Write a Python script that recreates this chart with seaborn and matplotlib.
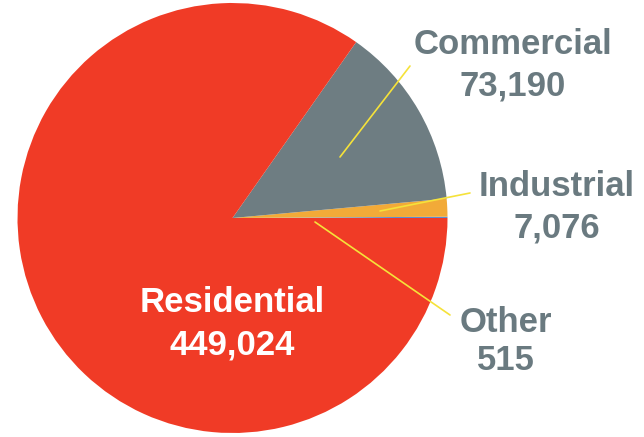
import matplotlib
matplotlib.use("Agg")
import matplotlib.pyplot as plt
import seaborn as sns

categories = ["Other", "Industrial", "Commercial", "Residential"]
values = [515, 7076, 73190, 449024]
value_labels = ["515", "7,076", "73,190", "449,024"]
colors = ["#5A8ED6", "#F2AA38", "#6E7D82", "#F03B26"]

sns.set_style("white")
plt.rcParams['font.family'] = ['Liberation Sans', 'DejaVu Sans']

fig = plt.figure(figsize=(6.44, 4.37), dpi=100)
ax = fig.add_axes([0, 0, 1, 1])
ax.set_xlim(0, 644)
ax.set_ylim(0, 437)
ax.set_aspect('equal')
ax.axis('off')

H = 437
cx, cy, r = 232.5, H - 218, 215
ax.pie(values, colors=colors, startangle=0, counterclock=True,
       center=(cx, cy), radius=r, wedgeprops=dict(linewidth=0), frame=True)
ax.set_xlim(0, 644)
ax.set_ylim(0, 437)
ax.axis('off')

# label positions (pixel coords, y from top)
label_pos = {
    "Commercial": (513, 45, 86),
    "Industrial": (557, 187, 228),
    "Other": (506, 322, 361),
    "Residential": (232, 303, 345),
}
text_gray = "#6A7A80"
for cat, val in zip(categories, value_labels):
    x, y1, y2 = label_pos[cat]
    col = "white" if cat == "Residential" else text_gray
    ax.text(x, H - y1, cat, ha='center', va='center', fontsize=25,
            fontweight='bold', color=col)
    ax.text(x, H - y2, val, ha='center', va='center', fontsize=25,
            fontweight='bold', color=col)

# leader lines
lines = {
    "Commercial": ((340, 157), (410, 66)),
    "Industrial": ((380, 211), (470, 193)),
    "Other": ((315, 222), (450, 315)),
}
for cat, ((x0, y0), (x1, y1)) in lines.items():
    ax.plot([x0, x1], [H - y0, H - y1], color="#F5E23A", lw=1.2)

fig.savefig("out.png", dpi=100)
